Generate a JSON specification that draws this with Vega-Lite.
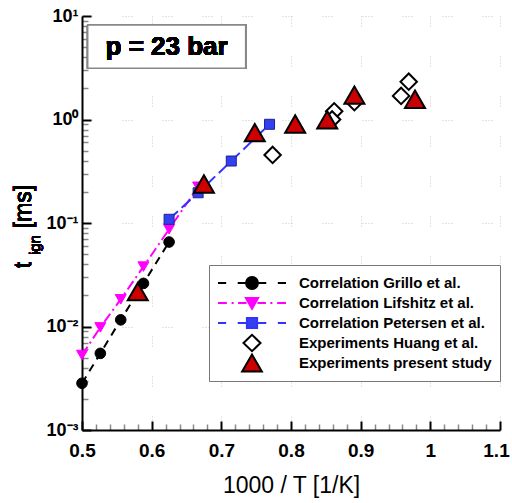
{
  "$schema": "https://vega.github.io/schema/vega-lite/v6.json",
  "width": 418,
  "height": 414,
  "autosize": {"type": "none"},
  "padding": {"left": 82, "top": 16, "right": 12, "bottom": 73},
  "background": "white",
  "config": {
    "font": "Liberation Sans",
    "view": {"stroke": null},
    "axis": {
      "domainColor": "black",
      "domainWidth": 2,
      "tickColor": "black",
      "labelColor": "black",
      "titleColor": "black",
      "labelFont": "Liberation Sans",
      "titleFont": "Liberation Sans"
    }
  },
  "data": {
    "values": [
      {"series": "Correlation Grillo et al.", "x": 0.5, "y": 0.00283},
      {"series": "Correlation Grillo et al.", "x": 0.5263, "y": 0.0055},
      {"series": "Correlation Grillo et al.", "x": 0.5556, "y": 0.0116},
      {"series": "Correlation Grillo et al.", "x": 0.5882, "y": 0.0261},
      {"series": "Correlation Grillo et al.", "x": 0.625, "y": 0.0655},
      {"series": "Correlation Lifshitz et al.", "x": 0.5, "y": 0.0053},
      {"series": "Correlation Lifshitz et al.", "x": 0.5263, "y": 0.0098},
      {"series": "Correlation Lifshitz et al.", "x": 0.5556, "y": 0.0183},
      {"series": "Correlation Lifshitz et al.", "x": 0.5882, "y": 0.0379},
      {"series": "Correlation Lifshitz et al.", "x": 0.625, "y": 0.087},
      {"series": "Correlation Lifshitz et al.", "x": 0.6667, "y": 0.224},
      {"series": "Correlation Petersen et al.", "x": 0.625, "y": 0.1086},
      {"series": "Correlation Petersen et al.", "x": 0.6667, "y": 0.196},
      {"series": "Correlation Petersen et al.", "x": 0.7143, "y": 0.397},
      {"series": "Correlation Petersen et al.", "x": 0.7692, "y": 0.899},
      {"series": "Experiments Huang et al.", "x": 0.7736, "y": 0.454},
      {"series": "Experiments Huang et al.", "x": 0.862, "y": 1.2},
      {"series": "Experiments Huang et al.", "x": 0.859, "y": 1.0},
      {"series": "Experiments Huang et al.", "x": 0.891, "y": 1.47},
      {"series": "Experiments Huang et al.", "x": 0.969, "y": 2.32},
      {"series": "Experiments Huang et al.", "x": 0.958, "y": 1.69},
      {"series": "Experiments present study", "x": 0.58, "y": 0.0217},
      {"series": "Experiments present study", "x": 0.675, "y": 0.238},
      {"series": "Experiments present study", "x": 0.748, "y": 0.746},
      {"series": "Experiments present study", "x": 0.806, "y": 0.905},
      {"series": "Experiments present study", "x": 0.852, "y": 0.99},
      {"series": "Experiments present study", "x": 0.891, "y": 1.72},
      {"series": "Experiments present study", "x": 0.978, "y": 1.57}
    ]
  },
  "encoding": {
    "x": {
      "field": "x",
      "type": "quantitative",
      "scale": {"domain": [0.5, 1.1], "nice": false, "zero": false},
      "axis": {
        "title": "1000 / T [1/K]",
        "titleFontSize": 23,
        "titleFontWeight": "normal",
        "titlePadding": 11,
        "values": [0.5, 0.52, 0.54, 0.56, 0.58, 0.6, 0.62, 0.64, 0.66, 0.68, 0.7, 0.72, 0.74, 0.76, 0.78, 0.8, 0.82, 0.84, 0.86, 0.88, 0.9, 0.92, 0.94, 0.96, 0.98, 1, 1.02, 1.04, 1.06, 1.08, 1.1],
        "labelExpr": "indexof([0.5,0.6,0.7,0.8,0.9,1,1.1], datum.value) >= 0 ? format(datum.value, '~g') : ''",
        "labelFontSize": 19,
        "labelFontWeight": "bold",
        "labelPadding": 20,
        "labelOverlap": false,
        "labelFlush": false,
        "labelOffset": {"condition": {"test": "datum.value == 1.1", "value": -4}, "value": 0},
        "tickSize": {"condition": {"test": "indexof([0.5,0.6,0.7,0.8,0.9,1,1.1], datum.value) >= 0", "value": -9}, "value": -6},
        "tickWidth": {"condition": {"test": "indexof([0.5,0.6,0.7,0.8,0.9,1,1.1], datum.value) >= 0", "value": 2}, "value": 1.5},
        "tickColor": {"condition": {"test": "indexof([0.5,0.6,0.7,0.8,0.9,1,1.1], datum.value) >= 0", "value": "black"}, "value": "#888"},
        "grid": true,
        "gridColor": "#c8c8c8",
        "gridDash": [1, 2, 1, 2, 1, 2, 1, 30],
        "gridOpacity": {"condition": {"test": "indexof([0.6,0.7,0.8,0.9,1,1.1], datum.value) >= 0", "value": 1}, "value": 0}
      }
    },
    "y": {
      "field": "y",
      "type": "quantitative",
      "scale": {"type": "log", "domain": [0.001, 10], "nice": false},
      "axis": {
        "title": null,
        "values": [0.001, 0.002, 0.003, 0.004, 0.005, 0.006, 0.007, 0.008, 0.009, 0.01, 0.02, 0.03, 0.04, 0.05, 0.06, 0.07, 0.08, 0.09, 0.1, 0.2, 0.3, 0.4, 0.5, 0.6, 0.7, 0.8, 0.9, 1, 2, 3, 4, 5, 6, 7, 8, 9, 10],
        "labelExpr": "datum.value == 10 ? '10¹' : datum.value == 1 ? '10⁰' : datum.value == 0.1 ? '10⁻¹' : datum.value == 0.01 ? '10⁻²' : datum.value == 0.001 ? '10⁻³' : ''",
        "labelFontSize": 18,
        "labelFontWeight": "bold",
        "labelPadding": 13,
        "labelOverlap": false,
        "labelFlush": false,
        "tickSize": {"condition": {"test": "indexof([0.001,0.01,0.1,1,10], datum.value) >= 0", "value": -9}, "value": -6},
        "tickWidth": {"condition": {"test": "indexof([0.001,0.01,0.1,1,10], datum.value) >= 0", "value": 2}, "value": 1.5},
        "tickColor": {"condition": {"test": "indexof([0.001,0.01,0.1,1,10], datum.value) >= 0", "value": "black"}, "value": "#888"},
        "grid": true,
        "gridColor": "#c8c8c8",
        "gridDash": [1, 2, 1, 2, 1, 2, 1, 30],
        "gridOpacity": {"condition": {"test": "indexof([0.01,0.1,1,10], datum.value) >= 0", "value": 1}, "value": 0}
      }
    }
  },
  "layer": [
    {
      "mark": {"type": "rect", "fill": "white", "stroke": "#888888", "strokeWidth": 1.5},
      "encoding": {
        "x": {"datum": 0.5082, "type": "quantitative"},
        "x2": {"datum": 0.7349},
        "y": {"datum": 8.19, "type": "quantitative"},
        "y2": {"datum": 3.125}
      }
    },
    {
      "mark": {"type": "text", "text": "p = 23 bar", "fontSize": 26, "fontWeight": "bold", "font": "Liberation Sans", "align": "center", "baseline": "middle", "color": "black"},
      "encoding": {
        "x": {"datum": 0.6215, "type": "quantitative"},
        "y": {"datum": 5.05, "type": "quantitative"}
      }
    },
    {
      "transform": [{"filter": "datum.series == 'Correlation Grillo et al.'"}],
      "mark": {"type": "line", "color": "black", "strokeWidth": 2, "strokeDash": [8, 6]}
    },
    {
      "transform": [{"filter": "datum.series == 'Correlation Lifshitz et al.'"}],
      "mark": {"type": "line", "color": "#ff00ff", "strokeWidth": 2, "strokeDash": [10, 4, 2, 4]}
    },
    {
      "transform": [{"filter": "datum.series == 'Correlation Petersen et al.'"}],
      "mark": {"type": "line", "color": "#3333ff", "strokeWidth": 2, "strokeDash": [12, 5]}
    },
    {
      "transform": [{"filter": "datum.series == 'Correlation Grillo et al.'"}],
      "mark": {"type": "point", "shape": "circle", "filled": true, "fill": "black", "stroke": "black", "strokeWidth": 1, "size": 113, "opacity": 1}
    },
    {
      "transform": [{"filter": "datum.series == 'Correlation Lifshitz et al.'"}],
      "mark": {"type": "point", "shape": "triangle-down", "filled": true, "fill": "#ff00ff", "stroke": "#ff00ff", "strokeWidth": 1, "size": 121, "opacity": 1}
    },
    {
      "transform": [{"filter": "datum.series == 'Correlation Petersen et al.'"}],
      "mark": {"type": "point", "shape": "square", "filled": true, "fill": "#3340f0", "stroke": "#1c2290", "strokeWidth": 1, "size": 100, "opacity": 1}
    },
    {
      "transform": [{"filter": "datum.series == 'Experiments Huang et al.'"}],
      "mark": {"type": "point", "shape": "diamond", "filled": true, "fill": "white", "stroke": "black", "strokeWidth": 2, "size": 270, "opacity": 1}
    },
    {
      "transform": [{"filter": "datum.series == 'Experiments present study'"}],
      "mark": {"type": "point", "shape": "triangle-up", "filled": true, "fill": "#cc0000", "stroke": "black", "strokeWidth": 2, "size": 400, "opacity": 1}
    },
    {
      "transform": [{"filter": "datum.series == 'none'"}],
      "mark": {"type": "point", "filled": true, "opacity": 1, "strokeWidth": 2},
      "encoding": {
        "shape": {
          "field": "series",
          "type": "nominal",
          "scale": {
            "domain": ["Correlation Grillo et al.", "Correlation Lifshitz et al.", "Correlation Petersen et al.", "Experiments Huang et al.", "Experiments present study"],
            "range": [
              "M-1,0H-0.76M-0.42,0H-0.17M0.17,0H0.42M0.76,0H1M-0.175,0A0.175,0.175 0 1,1 0.175,0A0.175,0.175 0 1,1 -0.175,0Z",
              "M-1,0H-0.74M-0.6,0H-0.54M-0.41,0H-0.16M0.16,0H0.41M0.54,0H0.6M0.74,0H1M-0.18,-0.15L0.18,-0.15L0,0.17Z",
              "M-1,0H-0.76M-0.42,0H-0.15M0.15,0H0.42M0.76,0H1M-0.15,-0.15H0.15V0.15H-0.15Z",
              "M-0.25,0L0,-0.24L0.25,0L0,0.24Z",
              "M-0.29,0.25L0.29,0.25L0,-0.25Z"
            ]
          },
          "legend": {
            "title": null,
            "orient": "none",
            "legendX": 127,
            "legendY": 249,
            "direction": "vertical",
            "symbolSize": 4624,
            "symbolStrokeWidth": 2,
            "labelFont": "Liberation Sans",
            "labelFontSize": 15,
            "labelFontWeight": "bold",
            "labelColor": "black",
            "labelOffset": 12,
            "labelLimit": 300,
            "clipHeight": 20,
            "rowPadding": 0,
            "padding": 8,
            "strokeColor": "#777777",
            "fillColor": "white"
          }
        },
        "fill": {
          "field": "series",
          "type": "nominal",
          "scale": {
            "domain": ["Correlation Grillo et al.", "Correlation Lifshitz et al.", "Correlation Petersen et al.", "Experiments Huang et al.", "Experiments present study"],
            "range": ["black", "#ff00ff", "#3340f0", "white", "#cc0000"]
          },
          "legend": {"title": null}
        },
        "stroke": {
          "field": "series",
          "type": "nominal",
          "scale": {
            "domain": ["Correlation Grillo et al.", "Correlation Lifshitz et al.", "Correlation Petersen et al.", "Experiments Huang et al.", "Experiments present study"],
            "range": ["black", "#ff00ff", "#3333ff", "black", "black"]
          },
          "legend": {"title": null}
        }
      }
    },
    {
      "mark": {"type": "text", "text": "t", "angle": 270, "fontSize": 23, "font": "Liberation Sans", "align": "center", "baseline": "alphabetic", "color": "black"},
      "encoding": {
        "x": {"datum": 0.4268, "type": "quantitative"},
        "y": {"datum": 0.0393, "type": "quantitative"}
      }
    },
    {
      "mark": {"type": "text", "text": "ign", "angle": 270, "fontSize": 15, "font": "Liberation Sans", "align": "center", "baseline": "alphabetic", "color": "black"},
      "encoding": {
        "x": {"datum": 0.4397, "type": "quantitative"},
        "y": {"datum": 0.0613, "type": "quantitative"}
      }
    },
    {
      "mark": {"type": "text", "text": "[ms]", "angle": 270, "fontSize": 23, "font": "Liberation Sans", "align": "center", "baseline": "alphabetic", "color": "black"},
      "encoding": {
        "x": {"datum": 0.4268, "type": "quantitative"},
        "y": {"datum": 0.1443, "type": "quantitative"}
      }
    }
  ]
}
